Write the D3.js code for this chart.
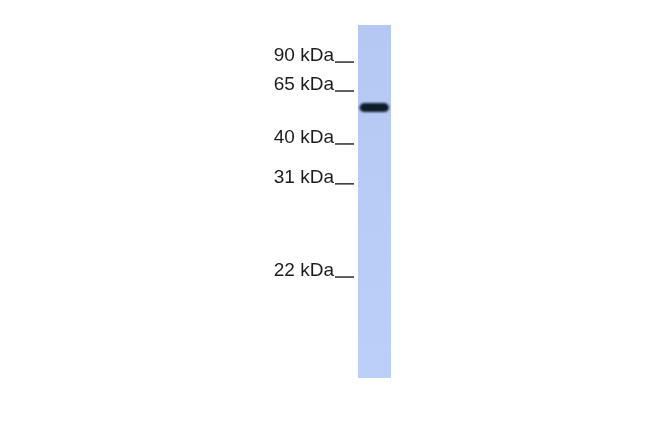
<!DOCTYPE html>
<html>
<head>
<meta charset="utf-8">
<script src="https://cdn.jsdelivr.net/npm/d3@7"></script>
<style>
  body { margin: 0; background: #fff; }
  svg { display: block; }
</style>
</head>
<body>
<div id="blot"></div>
<script>
// Blot dimension
const W = 650, H = 432
const laneLeft = 358, laneRight = 391, laneTop = 25, laneBottom = 378

// marker ladder (kDa) and relative migration (0 = top of lane, 1 = bottom)
const markerLabels = ["90 kDa", "65 kDa", "40 kDa", "31 kDa", "22 kDa"]
const markerRf = [0.105, 0.187, 0.337, 0.450, 0.714]

// detected bands in the sample lane
const bandRf = [0.234]
const bandIntensity = [1.0]

const svg = d3.select("#blot")
    .append("svg")
    .attr("width", W)
    .attr("height", H)

const y = d3.scaleLinear()
    .domain([0, 1])
    .range([laneTop, laneBottom])

const shade = d3.scaleLinear()
    .domain([0, 1])
    .range(["#b3c7f4", "#111c2c"])

const defs = svg.append("defs")

const laneGrad = defs.append("linearGradient")
    .attr("id", "lane-grad")
    .attr("x1", 0).attr("y1", 0).attr("x2", 0).attr("y2", 1)
laneGrad.selectAll("stop")
    .data([{o: 0, c: "#b5c8f3"}, {o: 0.5, c: "#b9ccf6"}, {o: 1, c: "#bccff8"}])
    .enter().append("stop")
    .attr("offset", d => (100 * d.o) + "%")
    .attr("stop-color", d => d.c)

const blur = defs.append("filter")
    .attr("id", "soft")
    .attr("x", "-20%").attr("y", "-100%")
    .attr("width", "140%").attr("height", "300%")
blur.append("feGaussianBlur").attr("stdDeviation", "1.0 1.2")

const textBlur = defs.append("filter").attr("id", "tsoft")
textBlur.append("feGaussianBlur").attr("stdDeviation", 0.35)

// lane
svg.append("rect")
    .attr("x", laneLeft)
    .attr("y", y(0))
    .attr("width", laneRight - laneLeft)
    .attr("height", y(1) - y(0))
    .style("fill", "url(#lane-grad)")

// bands
svg.selectAll(".band")
    .data(bandRf)
    .enter().append("rect")
    .attr("class", "band")
    .attr("x", laneLeft + 1.5)
    .attr("y", d => y(d) - 4.5)
    .attr("width", laneRight - laneLeft - 3.5)
    .attr("height", 9)
    .attr("rx", 5)
    .attr("ry", 4.5)
    .attr("filter", "url(#soft)")
    .style("fill", (d, i) => shade(bandIntensity[i]))

// marker labels + ticks
const markers = svg.selectAll(".marker")
    .data(markerRf)
    .enter().append("g")
    .attr("class", "marker")
    .attr("filter", "url(#tsoft)")

markers.append("text")
    .attr("x", 334)
    .attr("y", d => y(d) - 1)
    .style("text-anchor", "end")
    .style("font-family", "'Liberation Sans', Arial, sans-serif")
    .style("font-size", "19px")
    .style("fill", "#1e1e1e")
    .text((d, i) => markerLabels[i])

markers.append("line")
    .attr("x1", 335)
    .attr("x2", 354)
    .attr("y1", d => y(d))
    .attr("y2", d => y(d))
    .style("stroke", "#1e1e1e")
    .style("stroke-width", 1.4)
</script>
</body>
</html>
